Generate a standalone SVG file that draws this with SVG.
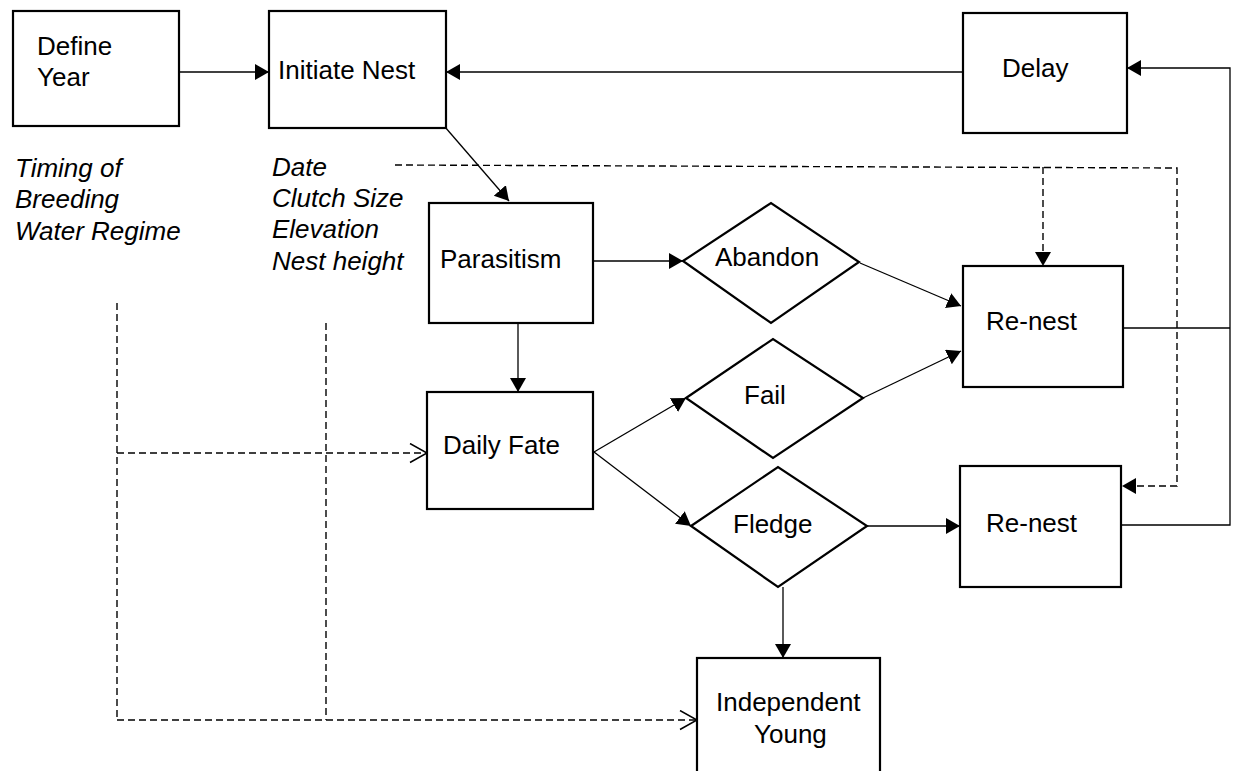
<svg xmlns="http://www.w3.org/2000/svg" width="1234" height="771" viewBox="0 0 1234 771">
<style>
.box{fill:#fff;stroke:#000;stroke-width:2.2}
.lbl{font-family:"Liberation Sans",Arial,sans-serif;font-size:26px;fill:#000}
.it{font-family:"Liberation Sans",Arial,sans-serif;font-size:26px;font-style:italic;fill:#000}
.c{fill:none;stroke:#000;stroke-width:1.3}
.d{fill:none;stroke:#000;stroke-width:1.4;stroke-dasharray:7 4}
</style>
<defs>
<marker id="fa" markerUnits="userSpaceOnUse" markerWidth="16" markerHeight="18" refX="14" refY="8" orient="auto">
<path d="M0,0 L14,8 L0,16 z" fill="#000"/>
</marker>
<marker id="oa" markerUnits="userSpaceOnUse" markerWidth="20" markerHeight="22" refX="18" refY="10.5" orient="auto">
<path d="M1,1 L18,10.5 L1,20" fill="none" stroke="#000" stroke-width="1.5"/>
</marker>
</defs>
<rect width="1234" height="771" fill="#fff"/>
<g id="connectors">
<line class="c" x1="179" y1="72" x2="269" y2="72" marker-end="url(#fa)"/>
<line class="c" x1="963" y1="72" x2="446" y2="72" marker-end="url(#fa)"/>
<polyline class="c" points="1123,328 1230,328"/>
<polyline class="c" points="1121,525 1230,525 1230,68 1127,68" marker-end="url(#fa)"/>
<line class="c" x1="445" y1="127" x2="509" y2="201" marker-end="url(#fa)"/>
<line class="c" x1="593" y1="261" x2="683" y2="261" marker-end="url(#fa)"/>
<line class="c" x1="518" y1="323" x2="518" y2="392" marker-end="url(#fa)"/>
<line class="c" x1="594" y1="452" x2="686" y2="398" marker-end="url(#fa)"/>
<line class="c" x1="594" y1="452" x2="691" y2="526" marker-end="url(#fa)"/>
<line class="c" x1="860" y1="263" x2="961" y2="306" marker-end="url(#fa)"/>
<line class="c" x1="863" y1="398" x2="961" y2="351" marker-end="url(#fa)"/>
<line class="c" x1="867" y1="526" x2="960" y2="526" marker-end="url(#fa)"/>
<line class="c" x1="783" y1="587" x2="783" y2="658" marker-end="url(#fa)"/>
<polyline class="d" points="395,165 1177,168 1177,486 1122,486" marker-end="url(#fa)"/>
<line class="d" x1="1043" y1="167" x2="1043" y2="266" marker-end="url(#fa)"/>
<line class="d" x1="117" y1="303" x2="117" y2="720"/>
<line class="d" x1="326" y1="323" x2="326" y2="720"/>
<line class="d" x1="117" y1="453" x2="427" y2="453" marker-end="url(#oa)"/>
<line class="d" x1="117" y1="720" x2="697" y2="720" marker-end="url(#oa)"/>
</g>
<g id="define-year">
<rect class="box" x="13" y="11" width="166" height="115"/>
<text class="lbl" x="37" y="55">Define</text>
<text class="lbl" x="37" y="86">Year</text>
</g>
<g id="initiate-nest">
<rect class="box" x="269" y="11" width="177" height="117"/>
<text class="lbl" x="278" y="79">Initiate Nest</text>
</g>
<g id="delay">
<rect class="box" x="963" y="13" width="164" height="120"/>
<text class="lbl" x="1002" y="77">Delay</text>
</g>
<g id="year-vars">
<text class="it" x="15" y="177">Timing of</text>
<text class="it" x="15" y="208">Breeding</text>
<text class="it" x="15" y="240">Water Regime</text>
</g>
<g id="nest-vars">
<text class="it" x="272" y="176">Date</text>
<text class="it" x="272" y="207">Clutch Size</text>
<text class="it" x="272" y="238">Elevation</text>
<text class="it" x="272" y="270">Nest height</text>
</g>
<g id="parasitism">
<rect class="box" x="429" y="203" width="164" height="120"/>
<text class="lbl" x="440" y="268">Parasitism</text>
</g>
<g id="abandon">
<polygon class="box" points="683,261 771,203 859,262 771,323"/>
<text class="lbl" x="715" y="266">Abandon</text>
</g>
<g id="daily-fate">
<rect class="box" x="427" y="392" width="166" height="117"/>
<text class="lbl" x="443" y="454">Daily Fate</text>
</g>
<g id="fail">
<polygon class="box" points="686,398 773,339 863,398 773,458"/>
<text class="lbl" x="744" y="404">Fail</text>
</g>
<g id="fledge">
<polygon class="box" points="691,526 778,467 867,526 778,587"/>
<text class="lbl" x="733" y="533">Fledge</text>
</g>
<g id="renest-1">
<rect class="box" x="963" y="266" width="160" height="121"/>
<text class="lbl" x="986" y="330">Re-nest</text>
</g>
<g id="renest-2">
<rect class="box" x="960" y="466" width="161" height="121"/>
<text class="lbl" x="986" y="532">Re-nest</text>
</g>
<g id="independent-young">
<rect class="box" x="697" y="658" width="183" height="125"/>
<text class="lbl" x="716" y="711">Independent</text>
<text class="lbl" x="754" y="743">Young</text>
</g>
</svg>
